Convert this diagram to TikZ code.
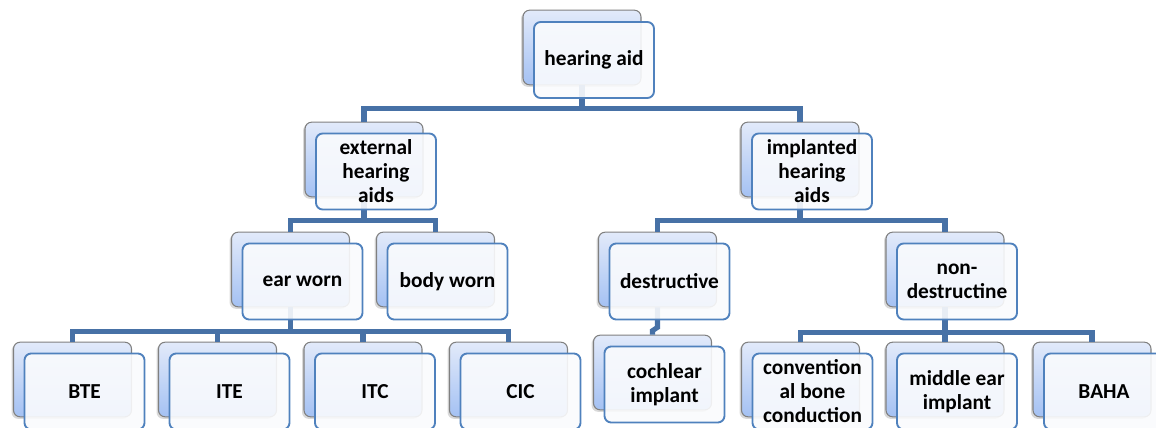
\documentclass[tikz,border=0pt]{standalone}
\usepackage{fontspec}
\setmainfont{Carlito}
\usepackage{tikz}
\usetikzlibrary{positioning}
\usetikzlibrary{shadows}
\definecolor{cardblue}{RGB}{79,129,189}
\definecolor{linkblue}{RGB}{71,113,166}
\definecolor{cardtop}{RGB}{226,234,250}
\definecolor{cardbottom}{RGB}{164,193,243}
\tikzset{backcard/.style={%
        rectangle,
        rounded corners=5pt,
        minimum width=88.5pt,
        minimum height=56pt,
        draw=black!50,
        line width=0.8pt,
        top color=cardtop,
        bottom color=cardbottom,
        drop shadow={shadow xshift=-1.5pt,shadow yshift=-1.5pt,opacity=0.3}
    }}
\tikzset{frontcard/.style={%
        rectangle,
        rounded corners=5pt,
        minimum width=90pt,
        minimum height=57pt,
        inner sep=0pt,
        align=center,
        draw=cardblue,
        line width=1.4pt,
        fill=white!97!cardblue,
        fill opacity=0.9,
        text opacity=1,
        font=\fontsize{16}{18}\selectfont\bfseries
    }}
\tikzset{link/.style={draw=linkblue, line width=3.8pt}}

\begin{document}
\begin{tikzpicture}[x=0.75pt,y=-0.75pt]
    \clip (0,0) rectangle (1156,428);
    \node [backcard] (ha-b) at (582,47.5) {};
    \node [backcard] (ext-b) at (364,159.5) {};
    \node [backcard] (imp-b) at (800,159.5) {};
    \node [backcard] (ear-b) at (290.5,269.5) {};
    \node [backcard] (body-b) at (435.5,269.5) {};
    \node [backcard] (des-b) at (657.5,269.5) {};
    \node [backcard] (non-b) at (945,269.5) {};
    \node [backcard] (bte-b) at (72.5,379.5) {};
    \node [backcard] (ite-b) at (217.5,379.5) {};
    \node [backcard] (itc-b) at (363,379.5) {};
    \node [backcard] (cic-b) at (508.5,379.5) {};
    \node [backcard] (coc-b) at (652.5,372.5) {};
    \node [backcard] (con-b) at (800.5,379.5) {};
    \node [backcard] (mid-b) at (945,379.5) {};
    \node [backcard] (baha-b) at (1092,379.5) {};

    \draw [link] (ha-b.south) -- ++(0,23.5) coordinate (ha-bar);
    \draw [link] (ext-b.north) |- (ha-bar) -| (imp-b.north);
    \draw [link] (ext-b.south) -- ++(0,23) coordinate (ext-bar);
    \draw [link] (ear-b.north) |- (ext-bar) -| (body-b.north);
    \draw [link] (imp-b.south) -- ++(0,23) coordinate (imp-bar);
    \draw [link] (des-b.north) |- (imp-bar) -| (non-b.north);
    \draw [link] (ear-b.south) -- ++(0,24) coordinate (ear-bar);
    \draw [link] (bte-b.north) |- (ear-bar) -| (cic-b.north);
    \draw [link] (ite-b.north) -- (ite-b.north |- ear-bar);
    \draw [link] (itc-b.north) -- (itc-b.north |- ear-bar);
    \draw [link] (des-b.south) -- ++(0,20) -- ([yshift=3pt]coc-b.north) -- (coc-b.north);
    \draw [link] (non-b.south) -- ++(0,25) coordinate (non-bar);
    \draw [link] (con-b.north) |- (non-bar) -| (baha-b.north);
    \draw [link] (mid-b.north) -- (mid-b.north |- non-bar);

    \node [frontcard] (ha) at ([shift={(12,12.5)}]ha-b) {hearing aid};
    \node [frontcard] (ext) at ([shift={(12,12)}]ext-b) {external\\hearing\\aids};
    \node [frontcard] (imp) at ([shift={(12,12)}]imp-b) {implanted\\hearing\\aids};
    \node [frontcard] (ear) at ([shift={(12,12)}]ear-b) {ear worn};
    \node [frontcard] (body) at ([shift={(12,12)}]body-b) {body worn};
    \node [frontcard] (des) at ([shift={(12,12)}]des-b) {destructive};
    \node [frontcard] (non) at ([shift={(12,12)}]non-b) {non-\\destructine};
    \node [frontcard] (bte) at ([shift={(12,12)}]bte-b) {BTE};
    \node [frontcard] (ite) at ([shift={(12,12)}]ite-b) {ITE};
    \node [frontcard] (itc) at ([shift={(12,12)}]itc-b) {ITC};
    \node [frontcard] (cic) at ([shift={(12,12)}]cic-b) {CIC};
    \node [frontcard] (coc) at ([shift={(12,12)}]coc-b) {cochlear\\implant};
    \node [frontcard] (con) at ([shift={(12,12)}]con-b) {convention\\al bone\\conduction};
    \node [frontcard] (mid) at ([shift={(12,12)}]mid-b) {middle ear\\implant};
    \node [frontcard] (baha) at ([shift={(12,12)}]baha-b) {BAHA};
\end{tikzpicture}
\end{document}
